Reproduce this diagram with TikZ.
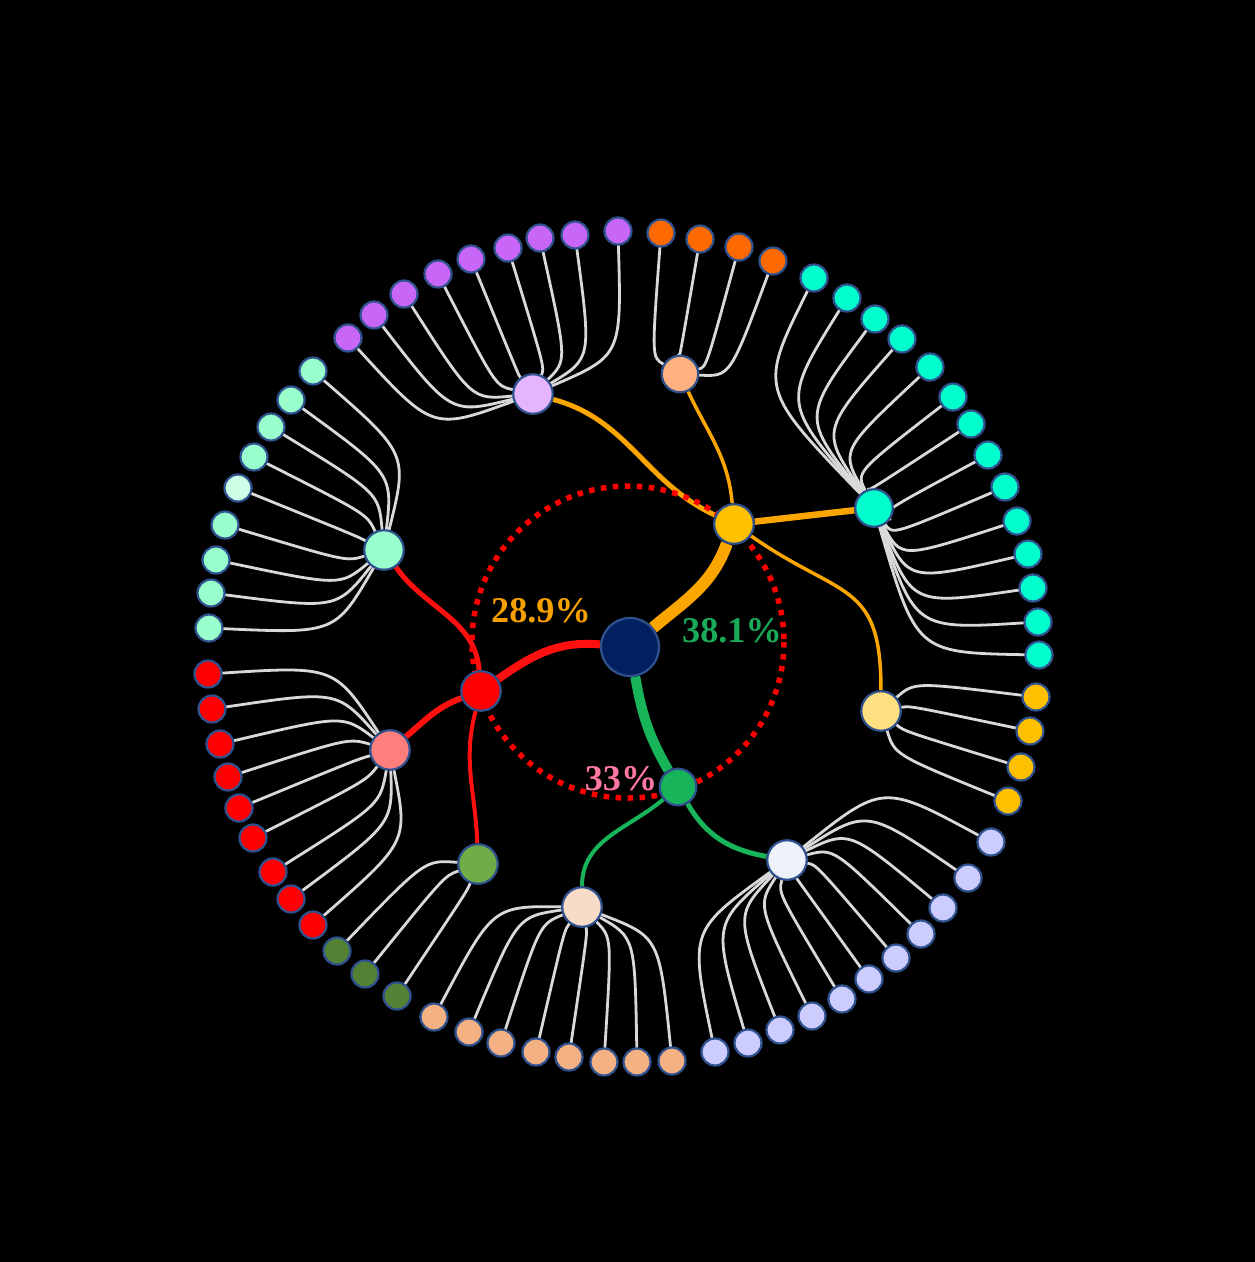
\documentclass[tikz,border=0pt]{standalone}
\usepackage{fontspec}
\setmainfont{Liberation Serif}
\usepackage{tikz}
\usetikzlibrary{calc}

\definecolor{rim}{RGB}{47,82,143}
\definecolor{twiggray}{RGB}{217,217,217}
\definecolor{navy}{RGB}{0,32,96}
\definecolor{amber}{RGB}{255,192,0}
\definecolor{branchorange}{RGB}{250,165,0}
\definecolor{branchred}{RGB}{255,16,16}
\definecolor{branchgreen}{RGB}{24,180,90}
\definecolor{lilac}{RGB}{228,180,252}
\definecolor{violet}{RGB}{200,102,248}
\definecolor{apricot}{RGB}{255,178,128}
\definecolor{tangerine}{RGB}{255,106,0}
\definecolor{aqua}{RGB}{0,255,204}
\definecolor{butter}{RGB}{255,224,128}
\definecolor{ice}{RGB}{237,242,250}
\definecolor{periwinkle}{RGB}{204,204,255}
\definecolor{cream}{RGB}{248,220,200}
\definecolor{peach}{RGB}{244,177,131}
\definecolor{grass}{RGB}{112,173,71}
\definecolor{moss}{RGB}{84,130,53}
\definecolor{salmon}{RGB}{255,127,127}
\definecolor{mint}{RGB}{153,255,204}
\definecolor{mintpale}{RGB}{204,255,230}
\definecolor{labelorange}{RGB}{245,160,0}
\definecolor{labelgreen}{RGB}{25,170,90}
\definecolor{labelpink}{RGB}{255,120,160}

\pgfdeclarelayer{bg}
\pgfdeclarelayer{edges}
\pgfsetlayers{bg,edges,main}

\begin{document}
\begin{tikzpicture}[x=0.1mm,y=-0.1mm,
  leaf/.style={circle,draw=rim,line width=0.22mm,minimum size=2.7mm,inner sep=0pt},
  hub node/.style={circle,draw=rim,line width=0.22mm,minimum size=3.95mm,inner sep=0pt},
  root node/.style={circle,draw=rim,line width=0.22mm,minimum size=5.8mm,inner sep=0pt,fill=navy},
  twig/.style={draw=twiggray,line width=0.28mm,line cap=round},
  pct/.style={inner sep=0pt,font=\fontsize{10.3}{12}\selectfont\bfseries}]

  \path[use as bounding box] (0,0) rectangle (1255,1262);
  \begin{pgfonlayer}{bg}
    \fill[black] (0,0) rectangle (1255,1262);
  \end{pgfonlayer}

  % centre and hubs
  \node[root node] (root) at (630,647) {};
  \node[hub node,fill=amber] (amb) at (734,524) {};
  \node[hub node,fill=lilac] (lil) at (533,394) {};
  \node[hub node,fill=apricot,minimum size=3.65mm] (apr) at (680,374) {};
  \node[hub node,fill=aqua,minimum size=3.75mm] (aq) at (874,508) {};
  \node[hub node,fill=butter] (but) at (881,711) {};
  \node[hub node,fill=branchgreen,minimum size=3.65mm] (grn) at (678,787) {};
  \node[hub node,fill=ice] (ice) at (787,860) {};
  \node[hub node,fill=cream] (crm) at (582,907) {};
  \node[hub node,fill=red] (rd) at (481,691) {};
  \node[hub node,fill=salmon] (sal) at (390,750) {};
  \node[hub node,fill=grass] (grs) at (478,864) {};
  \node[hub node,fill=mint] (mnt) at (384,550) {};

  % leaves
  \foreach \x/\y [count=\i] in {348/338,374/315,404/294,438/274,471/259,508/248,540/238,575/235,618/231}
    \node[leaf,fill=violet] (vi\i) at (\x,\y) {};
  \foreach \x/\y [count=\i] in {661/233,700/239,739/247,773/261}
    \node[leaf,fill=tangerine] (ta\i) at (\x,\y) {};
  \foreach \x/\y [count=\i] in {814/278,847/298,875/319,902/339,930/367,953/397,971/424,988/455,1005/487,1017/521,1028/554,1033/588,1038/622,1039/655}
    \node[leaf,fill=aqua] (aq\i) at (\x,\y) {};
  \foreach \x/\y [count=\i] in {1036/697,1030/731,1021/767,1008/801}
    \node[leaf,fill=amber] (am\i) at (\x,\y) {};
  \foreach \x/\y [count=\i] in {991/842,968/878,943/908,921/934,896/958,869/979,842/999,812/1016,780/1030,748/1043,715/1052}
    \node[leaf,fill=periwinkle] (pw\i) at (\x,\y) {};
  \foreach \x/\y [count=\i] in {434/1017,469/1032,501/1043,536/1052,569/1057,604/1062,637/1062,672/1061}
    \node[leaf,fill=peach] (pe\i) at (\x,\y) {};
  \foreach \x/\y [count=\i] in {337/951,365/974,397/996}
    \node[leaf,fill=moss] (mo\i) at (\x,\y) {};
  \foreach \x/\y [count=\i] in {208/674,212/709,220/744,228/777,239/808,253/838,273/872,291/899,313/925}
    \node[leaf,fill=red] (re\i) at (\x,\y) {};
  \foreach \x/\y/\c [count=\i] in {313/371/mint,291/400/mint,271/427/mint,254/457/mint,238/488/mintpale,225/525/mint,216/560/mint,211/593/mint,209/628/mint}
    \node[leaf,fill=\c] (mi\i) at (\x,\y) {};

  \begin{pgfonlayer}{edges}
    % grey twigs, hub to leaf
    \foreach \h/\p/\n in {lil/vi/9,apr/ta/4,aq/aq/14,but/am/4,ice/pw/11,crm/pe/8,grs/mo/3,sal/re/9,mnt/mi/9}
      \foreach \i in {1,...,\n}
        \draw[twig] (\h) .. controls ($(\p\i)!0.3!(root)$) .. (\p\i);

    % branches
    \draw[branchorange,line width=1.2mm] (root) to[out=40,in=250] (amb);
    \draw[branchorange,line width=0.5mm] (lil) to[out=-15,in=155] (amb);
    \draw[branchorange,line width=0.35mm] (apr) to[out=-65,in=95] (amb);
    \draw[branchorange,line width=0.65mm] (amb) -- (aq);
    \draw[branchorange,line width=0.35mm] (amb) to[out=-35,in=90,looseness=1.4] (but);
    \draw[branchred,line width=0.8mm] (root) to[out=175,in=35] (rd);
    \draw[branchred,line width=0.5mm] (mnt) to[out=-55,in=95] (rd);
    \draw[branchred,line width=0.6mm] (rd) to[out=200,in=40] (sal);
    \draw[branchred,line width=0.4mm] (rd) to[out=-105,in=92] (grs);
    \draw[branchgreen,line width=1.0mm] (root) to[out=-80,in=120] (grn);
    \draw[branchgreen,line width=0.4mm] (grn) to[out=-140,in=90] (crm);
    \draw[branchgreen,line width=0.5mm] (grn) to[out=-60,in=170] (ice);

    \draw[red,line width=0.55mm,dash pattern=on 0.55mm off 0.65mm] (628,642) circle[radius=156];
  \end{pgfonlayer}

  \node[pct,text=labelorange] (p1) at (541,611) {28.9\%};
  \node[pct,text=labelgreen] (p2) at (732,631) {38.1\%};
  \node[pct,text=labelpink] (p3) at (621,779) {33\%};
\end{tikzpicture}
\end{document}
